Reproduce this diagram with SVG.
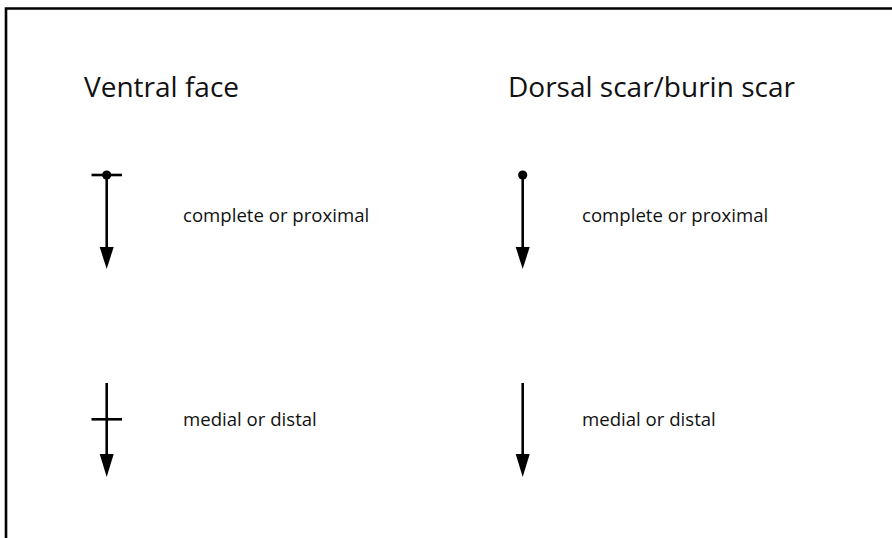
<svg xmlns="http://www.w3.org/2000/svg" width="892" height="538" viewBox="0 0 892 538">
<style>
.t{font-family:"Open Sans","Noto Sans",sans-serif;fill:#111}
.h{font-size:28px}
.s{font-size:18.6px}
.ln{stroke:#000;stroke-width:2.6;fill:none}
.hd{fill:#000}
</style>
<rect width="892" height="538" fill="#fff"/>
<path d="M6,538 V8.5 H892" class="ln" stroke-width="2.4"/>
<g id="heading-ventral"><text class="t h" x="84" y="97">Ventral face</text></g>
<g id="heading-dorsal"><text class="t h" x="508" y="97">Dorsal scar/burin scar</text></g>
<g id="connectors">
<g id="ventral-complete">
<line class="ln" x1="106.7" y1="175" x2="106.7" y2="250"/>
<polygon class="hd" points="99.7,247 113.7,247 106.7,269"/>
<line class="ln" x1="91.5" y1="175" x2="122" y2="175"/>
<circle class="hd" cx="106.7" cy="175" r="4.6"/>
</g>
<g id="dorsal-complete">
<line class="ln" x1="522.7" y1="175" x2="522.7" y2="250"/>
<polygon class="hd" points="515.7,247 529.7,247 522.7,269"/>
<circle class="hd" cx="522.7" cy="175" r="4.6"/>
</g>
<g id="ventral-medial">
<line class="ln" x1="106.7" y1="383" x2="106.7" y2="458"/>
<polygon class="hd" points="99.7,454 113.7,454 106.7,477"/>
<line class="ln" x1="91.5" y1="419.3" x2="122" y2="419.3"/>
</g>
<g id="dorsal-medial">
<line class="ln" x1="522.7" y1="383" x2="522.7" y2="458"/>
<polygon class="hd" points="515.7,454 529.7,454 522.7,477"/>
</g>
</g>
<g id="label-ventral-complete"><text class="t s" x="183" y="221.5">complete or proximal</text></g>
<g id="label-dorsal-complete"><text class="t s" x="582" y="221.5">complete or proximal</text></g>
<g id="label-ventral-medial"><text class="t s" x="183" y="426">medial or distal</text></g>
<g id="label-dorsal-medial"><text class="t s" x="582" y="426">medial or distal</text></g>
</svg>
